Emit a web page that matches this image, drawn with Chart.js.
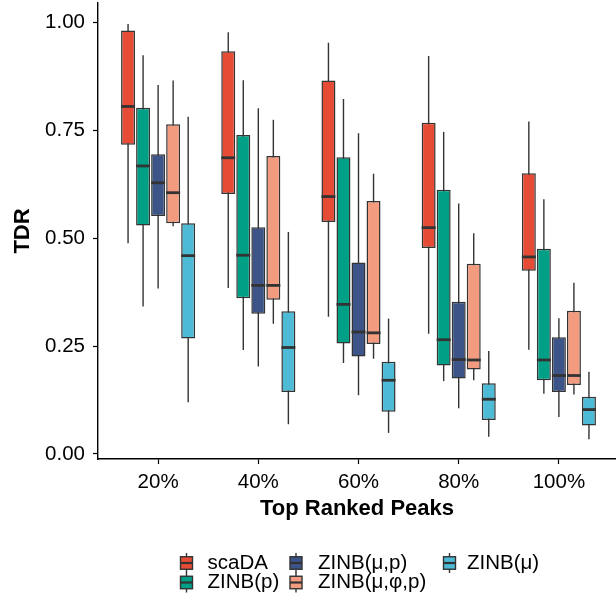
<!DOCTYPE html>
<html><head><meta charset="utf-8">
<script src="https://cdn.jsdelivr.net/npm/chart.js@4"></script>
<style>html,body{margin:0;padding:0;background:#fff}</style>
</head><body>
<canvas id="c" width="616" height="600"></canvas>
<script>
const categories = ['20%', '40%', '60%', '80%', '100%'];
const seriesNames = ['scaDA', 'ZINB(p)', 'ZINB(μ,p)', 'ZINB(μ,φ,p)', 'ZINB(μ)'];
const seriesColors = ['#E64B35', '#00A087', '#3C5488', '#F39B7F', '#4DBBD5'];
const yTicks = [0, 0.25, 0.5, 0.75, 1];
// each entry: [lower whisker, Q1, median, Q3, upper whisker]
const scaDA = [
  [0.489, 0.717, 0.806, 0.982, 0.997],
  [0.385, 0.603, 0.687, 0.934, 0.978],
  [0.318, 0.538, 0.597, 0.866, 0.954],
  [0.279, 0.478, 0.525, 0.768, 0.923],
  [0.242, 0.425, 0.457, 0.651, 0.771]
];
const zinbP = [
  [0.342, 0.530, 0.668, 0.803, 0.925],
  [0.241, 0.361, 0.461, 0.740, 0.867],
  [0.211, 0.256, 0.347, 0.688, 0.823],
  [0.169, 0.205, 0.265, 0.613, 0.747],
  [0.140, 0.171, 0.218, 0.476, 0.591]
];
const zinbMuP = [
  [0.384, 0.552, 0.629, 0.695, 0.856],
  [0.203, 0.325, 0.391, 0.526, 0.802],
  [0.136, 0.226, 0.283, 0.444, 0.744],
  [0.106, 0.175, 0.219, 0.353, 0.581],
  [0.086, 0.144, 0.182, 0.271, 0.315]
];
const zinbMuPhiP = [
  [0.528, 0.535, 0.606, 0.765, 0.866],
  [0.302, 0.358, 0.391, 0.691, 0.775],
  [0.221, 0.255, 0.281, 0.587, 0.650],
  [0.171, 0.196, 0.218, 0.441, 0.512],
  [0.138, 0.160, 0.182, 0.332, 0.397]
];
const zinbMu = [
  [0.120, 0.268, 0.460, 0.535, 0.782],
  [0.069, 0.144, 0.247, 0.331, 0.515],
  [0.049, 0.098, 0.171, 0.214, 0.314],
  [0.040, 0.079, 0.127, 0.164, 0.239],
  [0.034, 0.066, 0.103, 0.133, 0.191]
];
const allSeries = [scaDA, zinbP, zinbMuP, zinbMuPhiP, zinbMu];

const FAMILY = '"Liberation Sans", Arial, Helvetica, sans-serif';
const DARK = '#333333';

const datasets = allSeries.map((s, k) => ({
  label: seriesNames[k],
  data: s.map((b, i) => ({ x: i + 1, y: [b[1], b[3]] })),
  backgroundColor: seriesColors[k],
  borderColor: DARK,
  borderWidth: 1.5,
  borderSkipped: false,
  barPercentage: 0.93,
  categoryPercentage: 0.75
}));

const boxParts = {
  id: 'boxParts',
  beforeDatasetsDraw(chart) {
    const ctx = chart.ctx, ys = chart.scales.y;
    ctx.save();
    ctx.strokeStyle = DARK;
    ctx.lineWidth = 1.4;
    chart.data.datasets.forEach((ds, k) => {
      chart.getDatasetMeta(k).data.forEach((el, i) => {
        const b = allSeries[k][i];
        ctx.beginPath();
        ctx.moveTo(el.x, ys.getPixelForValue(b[0]));
        ctx.lineTo(el.x, ys.getPixelForValue(b[4]));
        ctx.stroke();
      });
    });
    ctx.restore();
  },
  afterDatasetsDraw(chart) {
    const ctx = chart.ctx, ys = chart.scales.y;
    ctx.save();
    ctx.strokeStyle = DARK;
    ctx.lineWidth = 2.8;
    chart.data.datasets.forEach((ds, k) => {
      chart.getDatasetMeta(k).data.forEach((el, i) => {
        const b = allSeries[k][i];
        const py = ys.getPixelForValue(b[2]);
        ctx.beginPath();
        ctx.moveTo(el.x - el.width / 2, py);
        ctx.lineTo(el.x + el.width / 2, py);
        ctx.stroke();
      });
    });
    ctx.restore();
  }
};

const legendLayout = {
  cols: [[0, 1], [2, 3], [4]],
  keyX: [180.5, 290, 443.5],
  textX: [207.5, 318, 467],
  rowY: [563, 582.5]
};
const boxLegend = {
  id: 'boxLegend',
  afterDraw(chart) {
    const ctx = chart.ctx;
    ctx.save();
    ctx.font = '20.5px ' + FAMILY;
    ctx.textBaseline = 'middle';
    ctx.textAlign = 'left';
    legendLayout.cols.forEach((col, c) => {
      col.forEach((k, r) => {
        const x0 = legendLayout.keyX[c], cy = legendLayout.rowY[r];
        const w = 12, h = 12.5, cx = x0 + w / 2;
        ctx.strokeStyle = DARK;
        ctx.lineWidth = 1.4;
        ctx.beginPath(); ctx.moveTo(cx, cy - 10); ctx.lineTo(cx, cy + 10); ctx.stroke();
        ctx.fillStyle = seriesColors[k];
        ctx.fillRect(x0, cy - h / 2, w, h);
        ctx.strokeRect(x0, cy - h / 2, w, h);
        ctx.lineWidth = 2.2;
        ctx.beginPath(); ctx.moveTo(x0, cy); ctx.lineTo(x0 + w, cy); ctx.stroke();
        ctx.fillStyle = '#000';
        ctx.fillText(seriesNames[k], legendLayout.textX[c], cy);
      });
    });
    ctx.restore();
  }
};

new Chart(document.getElementById('c'), {
  type: 'bar',
  data: { datasets },
  options: {
    responsive: false,
    animation: false,
    layout: { padding: { top: 3, right: 0, bottom: 0, left: 0 } },
    plugins: { legend: { display: false }, tooltip: { enabled: false } },
    scales: {
      x: {
        type: 'linear',
        min: 0.4,
        max: 5.57,
        offset: false,
        afterBuildTicks: ax => { ax.ticks = categories.map((_, i) => ({ value: i + 1 })); },
        afterFit: ax => { ax.height = 141; ax.paddingLeft = 0; ax.paddingRight = 0; },
        grid: { offset: false, drawOnChartArea: false, drawTicks: true, tickLength: 5, color: '#000', tickWidth: 1.2 },
        border: { display: true, color: '#000', width: 1.4 },
        ticks: {
          callback: v => categories[Math.round(v) - 1],
          color: '#000', font: { size: 20.5, family: FAMILY }, padding: 6,
          maxRotation: 0, autoSkip: false
        },
        title: {
          display: true, text: 'Top Ranked Peaks', color: '#000',
          font: { size: 22, weight: 'bold', family: FAMILY },
          padding: { top: 0, bottom: 78 }
        }
      },
      y: {
        type: 'linear',
        min: -0.0116,
        max: 1.0459,
        afterBuildTicks: ax => { ax.ticks = yTicks.map(v => ({ value: v })); },
        afterFit: ax => { ax.width = 98; ax.paddingTop = 0; ax.paddingBottom = 0; },
        grid: { drawOnChartArea: false, drawTicks: true, tickLength: 5, color: '#000', tickWidth: 1.2 },
        border: { display: true, color: '#000', width: 1.4 },
        ticks: {
          callback: v => Number(v).toFixed(2),
          color: '#000', font: { size: 20.5, family: FAMILY }, padding: 8
        },
        title: {
          display: true, text: 'TDR', color: '#000',
          font: { size: 22, weight: 'bold', family: FAMILY },
          padding: { top: 10, bottom: 0 }
        }
      }
    }
  },
  plugins: [boxParts, boxLegend]
});
</script>
</body></html>
